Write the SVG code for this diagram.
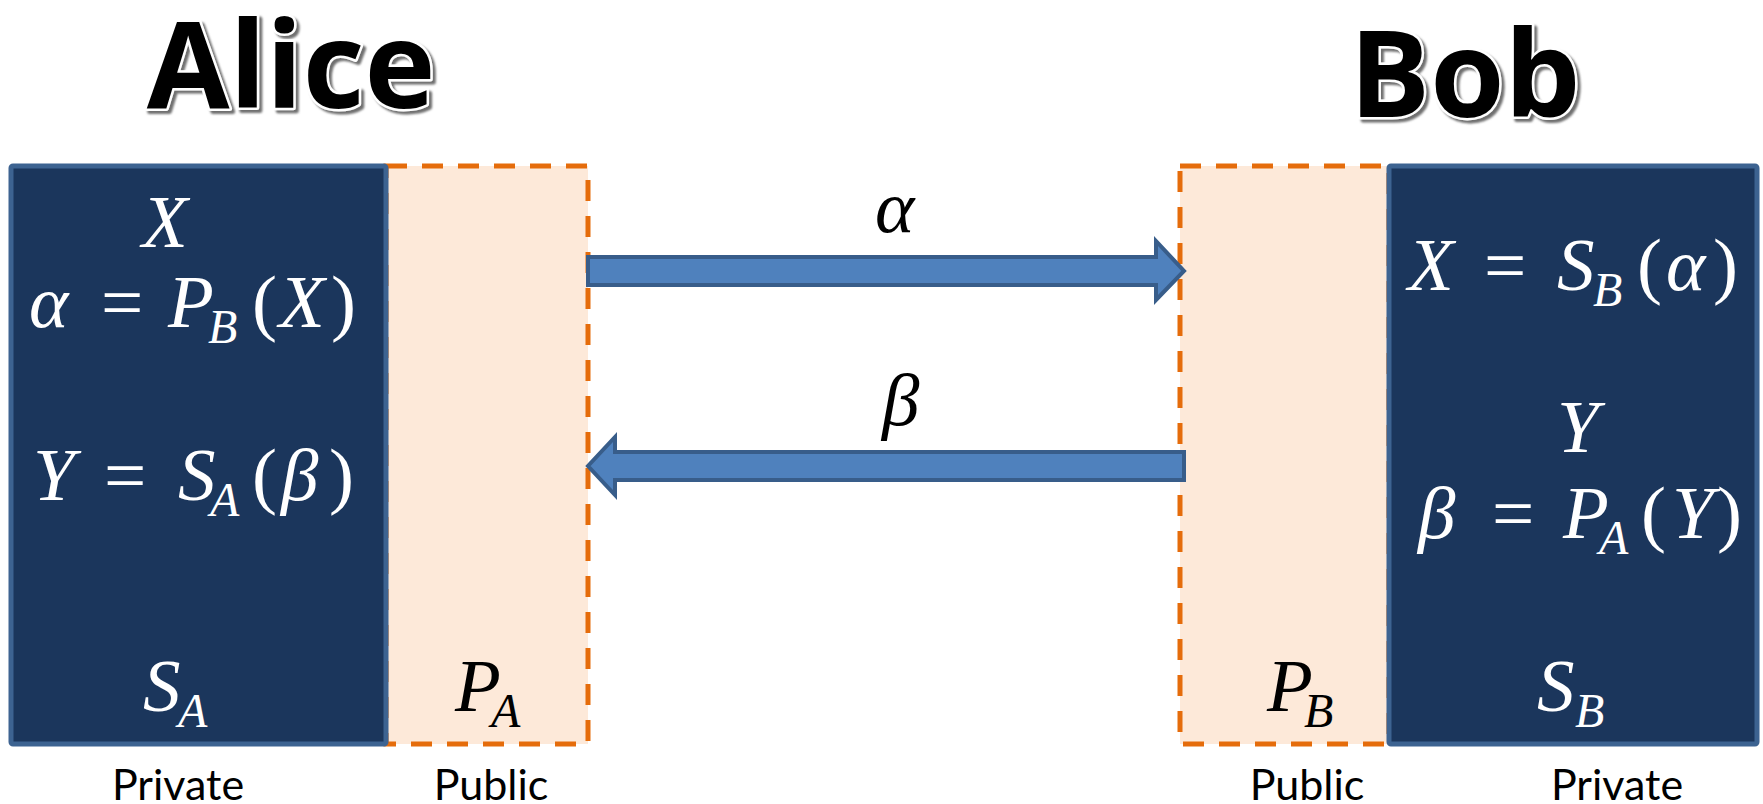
<svg xmlns="http://www.w3.org/2000/svg" width="1763" height="804" viewBox="0 0 1763 804">
<defs>
  <filter id="tshadow" x="-10%" y="-20%" width="125%" height="150%">
    <feDropShadow dx="3" dy="3" stdDeviation="1" flood-color="#6f6f6f" flood-opacity="1"/>
  </filter>
</defs>
<style>
.title{font-family:"Open Sans","DejaVu Sans",sans-serif;font-weight:bold;font-size:120px;text-anchor:middle;fill:#000;stroke:#fff;stroke-width:5px;paint-order:stroke;stroke-linejoin:round;filter:url(#tshadow)}
.priv{fill:#1b365c;stroke:#3d6391;stroke-width:5px}
.pub{fill:#fde9d9;stroke:#e56c0b;stroke-width:5px;stroke-dasharray:21 15}
.m{font-family:"Liberation Serif","Times New Roman",serif;font-style:italic;font-size:75px}
.up{font-style:normal}
.sub{font-size:48px}
.w{fill:#fff}
.k{fill:#000}
.lab{font-family:Lato,"Open Sans",sans-serif;font-size:43px;fill:#000;text-anchor:middle}
.arrow{fill:#4f81bd;stroke:#385d8a;stroke-width:4px;stroke-linejoin:miter}
</style>

<g id="alice-title">
  <text class="title" x="291" y="108">Alice</text>
</g>
<g id="bob-title">
  <text class="title" x="1465" y="117">Bob</text>
</g>

<g id="alice-public">
  <rect class="pub" x="386" y="166" width="202" height="578"/>
  <text class="m k" y="711"><tspan x="455">P</tspan><tspan class="sub" x="491" y="727">A</tspan></text>
</g>
<g id="alice-private">
  <rect class="priv" x="11" y="166" width="375" height="578" rx="2"/>
  <text class="m w" x="142" y="247">X</text>
  <text class="m w" y="327"><tspan x="29">α</tspan><tspan class="up" x="101">=</tspan><tspan x="168">P</tspan><tspan class="sub" x="208" y="343">B</tspan><tspan class="up" x="252" y="327">(</tspan><tspan x="279">X</tspan><tspan class="up" x="331">)</tspan></text>
  <text class="m w" y="500"><tspan x="33">Y</tspan><tspan class="up" x="104">=</tspan><tspan x="178">S</tspan><tspan class="sub" x="210" y="516">A</tspan><tspan class="up" x="252" y="500">(</tspan><tspan x="281">β</tspan><tspan class="up" x="329">)</tspan></text>
  <text class="m w" y="711"><tspan x="143">S</tspan><tspan class="sub" x="178" y="727">A</tspan></text>
</g>

<g id="bob-public">
  <rect class="pub" x="1180" y="166" width="209" height="578"/>
  <text class="m k" y="711"><tspan x="1267">P</tspan><tspan class="sub" x="1304" y="727">B</tspan></text>
</g>
<g id="bob-private">
  <rect class="priv" x="1389" y="166" width="368" height="578" rx="2"/>
  <text class="m w" y="290"><tspan x="1408">X</tspan><tspan class="up" x="1484">=</tspan><tspan x="1557">S</tspan><tspan class="sub" x="1593" y="306">B</tspan><tspan class="up" x="1637" y="290">(</tspan><tspan x="1666">α</tspan><tspan class="up" x="1713">)</tspan></text>
  <text class="m w" x="1557" y="452">Y</text>
  <text class="m w" y="538"><tspan x="1418">β</tspan><tspan class="up" x="1492">=</tspan><tspan x="1563">P</tspan><tspan class="sub" x="1599" y="554">A</tspan><tspan class="up" x="1641" y="538">(</tspan><tspan x="1672">Y</tspan><tspan class="up" x="1717">)</tspan></text>
  <text class="m w" y="711"><tspan x="1537">S</tspan><tspan class="sub" x="1575" y="727">B</tspan></text>
</g>

<g id="connectors">
  <polygon class="arrow" points="588,257 1156,257 1156,241 1184,271 1156,300 1156,285 588,285"/>
  <polygon class="arrow" points="1184,452 615,452 615,437 588,466 615,495 615,480 1184,480"/>
  <text class="m k" x="875" y="232">α</text>
  <text class="m k" x="882" y="425">β</text>
</g>

<g id="labels">
  <text class="lab" x="178" y="800">Private</text>
  <text class="lab" x="491" y="800">Public</text>
  <text class="lab" x="1307" y="800">Public</text>
  <text class="lab" x="1617" y="800">Private</text>
</g>
</svg>
